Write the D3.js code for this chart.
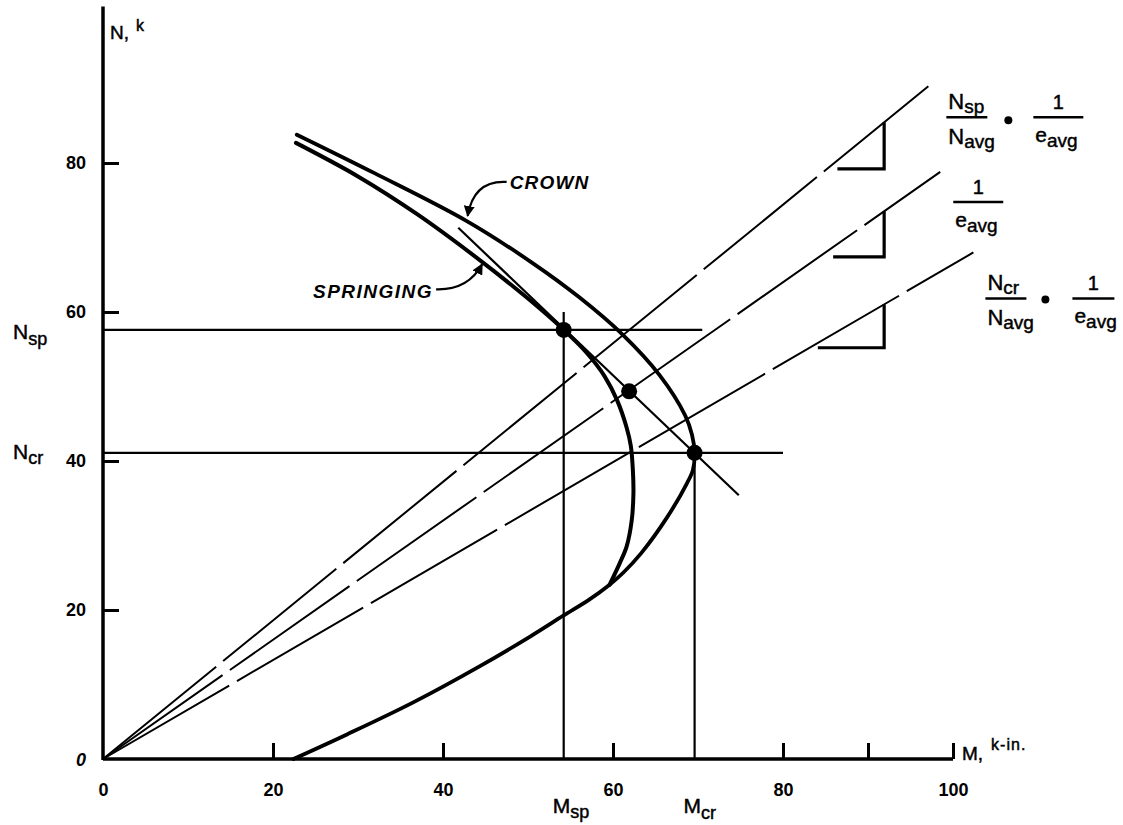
<!DOCTYPE html>
<html>
<head>
<meta charset="utf-8">
<script src="https://cdn.jsdelivr.net/npm/d3@7"></script>
<style>
  body { margin: 0; background: #fff; }
  svg { display: block; }
  text { font-family: "Liberation Sans", Arial, Helvetica, sans-serif; fill: #000; }
  .heavy { stroke: #000; stroke-width: 0.45px; }
</style>
</head>
<body>
<svg id="chart" width="1123" height="825"></svg>
<script>
// ---- axis ticks ----
const xTicks = [0, 20, 40, 60, 80, 90, 100];
const xTickLabels = ["0", "20", "40", "60", "80", "", "100"];
const yTicks = [20, 40, 60, 80];
const yTickLabels = ["20", "40", "60", "80"];

// ---- governing points (M in k-in., N in k) ----
const Msp = 54.2, Nsp = 57.6;    // springing
const Mcr = 69.6, Ncr = 41.1;    // crown
const Mavg = 61.9, Navg = 49.35; // average of the two

// ---- interaction curve at the crown, continuing into the shared lower branch ----
const crownM = [22.8, 32.0, 42.8, 50.5, 56.0, 61.1, 65.5, 68.5, 69.3, 69.6, 69.4, 68.7, 66.4, 63.3, 61.2, 59.6,
                57.2, 54.1, 50.2, 44.4, 36.5, 28.7, 22.4];
const crownN = [83.8, 78.6, 72.2, 66.6, 62.0, 57.0, 51.5, 46.1, 43.5, 41.1, 38.8, 37.0, 32.5, 27.6, 25.0, 23.4,
                21.4, 19.2, 16.4, 12.5, 7.6, 3.3, 0.0];

// ---- interaction curve at the springing (meets the crown curve at the cusp) ----
const springM = [22.7, 30.0, 37.0, 44.4, 50.0, 54.2, 57.0, 59.0, 60.5, 61.6, 62.1, 62.35, 62.4, 62.2, 61.6, 60.8, 59.6];
const springN = [82.7, 78.2, 73.1, 66.9, 61.8, 57.6, 54.4, 51.4, 48.1, 44.5, 42.0, 38.5, 35.5, 32.0, 28.5, 26.3, 23.4];

// ---- eccentricity lines through the origin: slope N/M and end M ----
const raySlopes = [0.93, 0.80, 0.664];
const rayEndM = [97.1, 98.5, 102.4];

// slope markers on each ray: vertical leg at M, foot level N, left end of foot
const markM = [91.9, 91.9, 91.9];
const markFootN = [79.2, 67.4, 55.2];
const markLeftM = [86.4, 85.9, 84.1];

// straight line joining the governing points, extended both ways
const joinM = [41.8, 74.8];
const joinN = [71.3, 35.4];

// ---------------------------------------------------------------
const svg = d3.select("#chart");
const x = d3.scaleLinear().domain([0, 100]).range([103, 953]);
const y = d3.scaleLinear().domain([0, 80]).range([759, 163]);

const ink = "#000";
const toPts = (ms, ns) => ms.map((m, i) => [m, ns[i]]);
const line = d3.line().x(d => x(d[0])).y(d => y(d[1]));
const smooth = d3.line().x(d => x(d[0])).y(d => y(d[1])).curve(d3.curveCatmullRom.alpha(0.5));

// ---- axes ----
const xAxis = d3.axisBottom(x)
  .tickValues(xTicks)
  .tickFormat((d, i) => xTickLabels[i])
  .tickSizeInner(-16).tickSizeOuter(0).tickPadding(24);
const gx = svg.append("g").attr("transform", `translate(0,${y(0)})`).call(xAxis);
gx.select(".domain").remove();
gx.selectAll(".tick line").attr("stroke", ink).attr("stroke-width", 3)
  .filter(d => d === 0).remove();
gx.selectAll(".tick text").attr("font-size", 18).attr("font-weight", "bold").attr("fill", ink);

const yAxis = d3.axisLeft(y)
  .tickValues(yTicks)
  .tickFormat((d, i) => yTickLabels[i])
  .tickSizeInner(-16).tickSizeOuter(0).tickPadding(17);
const gy = svg.append("g").attr("transform", `translate(${x(0)},0)`).call(yAxis);
gy.select(".domain").remove();
gy.selectAll(".tick line").attr("stroke", ink).attr("stroke-width", 3);
gy.selectAll(".tick text").attr("font-size", 18).attr("font-weight", "bold").attr("fill", ink);

// axis lines
svg.append("line").attr("x1", x(0)).attr("x2", x(100)).attr("y1", y(0)).attr("y2", y(0))
  .attr("stroke", ink).attr("stroke-width", 3.5);
svg.append("line").attr("x1", x(0)).attr("x2", x(0)).attr("y1", y(0) + 1).attr("y2", y(101))
  .attr("stroke", ink).attr("stroke-width", 3.5);

// origin label on the N axis
svg.append("text").attr("x", x(0) - 22).attr("y", y(0) + 7)
  .attr("text-anchor", "middle").attr("font-size", 18).attr("font-weight", "bold")
  .attr("font-style", "italic").text("0");

// axis titles
const nTitle = svg.append("text").attr("class", "heavy").attr("x", x(0) + 7).attr("y", y(101) + 32).attr("font-size", 19);
nTitle.append("tspan").text("N,");
nTitle.append("tspan").attr("dx", 7).attr("dy", -8).attr("font-size", 16).text("k");

const mTitle = svg.append("text").attr("class", "heavy").attr("x", x(100) + 9).attr("y", y(0) + 1).attr("font-size", 19);
mTitle.append("tspan").text("M,");
mTitle.append("tspan").attr("dx", 8).attr("dy", -10).attr("font-size", 16).attr("letter-spacing", 1).text("k-in.");

// ---- reference lines for the governing points ----
const ref = svg.append("g").attr("stroke", ink).attr("stroke-width", 2.2).attr("fill", "none");
ref.append("path").attr("d", line([[0, Nsp], [70.5, Nsp]]));
ref.append("path").attr("d", line([[0, Ncr], [80, Ncr]]));
ref.append("path").attr("d", line([[Msp, 0], [Msp, 60]]));
ref.append("path").attr("d", line([[Mcr, 0], [Mcr, Ncr]]));
ref.append("path").attr("d", line(toPts(joinM, joinN)));

// ---- eccentricity rays ----
const rays = svg.append("g").attr("stroke", ink).attr("stroke-width", 2).attr("fill", "none");
raySlopes.forEach((s, i) => {
  rays.append("path")
    .attr("d", line([[0, 0], [rayEndM[i], s * rayEndM[i]]]))
    .attr("stroke-dasharray", "146,9");
});

// slope markers
const marks = svg.append("g").attr("stroke", ink).attr("stroke-width", 3.2).attr("fill", "none")
  .attr("stroke-linejoin", "miter");
raySlopes.forEach((s, i) => {
  marks.append("path").attr("d", line([
    [markM[i], s * markM[i]],
    [markM[i], markFootN[i]],
    [markLeftM[i], markFootN[i]]
  ]));
});

// ---- interaction curves ----
const curves = svg.append("g").attr("stroke", ink).attr("fill", "none")
  .attr("stroke-linecap", "round").attr("stroke-linejoin", "round");
curves.append("path").attr("d", smooth(toPts(crownM, crownN))).attr("stroke-width", 3.8);
curves.append("path").attr("d", smooth(toPts(springM, springN))).attr("stroke-width", 4);

// ---- governing points ----
svg.append("g").selectAll("circle")
  .data([[Msp, Nsp], [Mavg, Navg], [Mcr, Ncr]])
  .join("circle")
  .attr("cx", d => x(d[0])).attr("cy", d => y(d[1])).attr("r", 8).attr("fill", ink);

// ---- curve labels with arrows ----
svg.append("defs").append("marker")
  .attr("id", "head").attr("viewBox", "0 0 10 10").attr("refX", 9).attr("refY", 5)
  .attr("markerWidth", 5).attr("markerHeight", 5).attr("orient", "auto-start-reverse")
  .append("path").attr("d", "M0,0 L10,5 L0,10 z").attr("fill", ink);

const crownTip = [x(42.9), y(72.9)];
svg.append("path")
  .attr("d", `M${crownTip[0] + 39},${crownTip[1] - 34} Q${crownTip[0] + 6},${crownTip[1] - 36} ${crownTip[0]},${crownTip[1]}`)
  .attr("stroke", ink).attr("stroke-width", 2.2).attr("fill", "none").attr("marker-end", "url(#head)");
svg.append("text").attr("x", crownTip[0] + 42).attr("y", crownTip[1] - 27)
  .attr("font-size", 19).attr("font-weight", "bold").attr("font-style", "italic")
  .attr("letter-spacing", 1.2).text("CROWN");

const springTip = [x(44.6), y(66.4)];
svg.append("path")
  .attr("d", `M${springTip[0] - 46},${springTip[1] + 25} Q${springTip[0] - 14},${springTip[1] + 26} ${springTip[0]},${springTip[1]}`)
  .attr("stroke", ink).attr("stroke-width", 2.2).attr("fill", "none").attr("marker-end", "url(#head)");
svg.append("text").attr("x", springTip[0] - 49).attr("y", springTip[1] + 34)
  .attr("text-anchor", "end").attr("font-size", 19).attr("font-weight", "bold")
  .attr("font-style", "italic").attr("letter-spacing", 1.5).text("SPRINGING");

// ---- subscripted symbols ----
function symbol(px, py, main, sub, size, subSize, subDy, anchor) {
  const t = svg.append("text").attr("class", "heavy").attr("x", px).attr("y", py).attr("font-size", size)
    .attr("text-anchor", anchor || "start");
  t.append("tspan").text(main);
  t.append("tspan").attr("dy", subDy).attr("font-size", subSize).text(sub);
  return t;
}

// governing values next to the axes
symbol(13, y(Nsp) + 9, "N", "sp", 21, 18, 6);
symbol(13, y(Ncr) + 6, "N", "cr", 21, 18, 5);
symbol(x(Msp) - 11, y(0) + 54, "M", "sp", 21, 18, 5);
symbol(x(Mcr) - 11, y(0) + 54, "M", "cr", 21, 18, 6);

// ---- ray labels (fractions) ----
function bar(x1, x2, yy) {
  svg.append("line").attr("x1", x1).attr("x2", x2).attr("y1", yy).attr("y2", yy)
    .attr("stroke", ink).attr("stroke-width", 2.4);
}
function oneOverE(cx, barY, w) {
  bar(cx - w / 2, cx + w / 2, barY);
  svg.append("text").attr("class", "heavy").attr("x", cx).attr("y", barY - 8).attr("text-anchor", "middle")
    .attr("font-size", 20).text("1");
  symbol(cx - w / 2 + 2, barY + 25, "e", "avg", 21, 19, 5);
}
function nOverN(left, barY, sub) {
  symbol(left + 2, barY - 8, "N", sub, 22, 19, 4);
  bar(left, left + 41, barY);
  symbol(left + 2, barY + 27, "N", "avg", 22, 19, 4);
}

// top ray: N_sp / N_avg * 1 / e_avg
const topBarY = y(raySlopes[0] * rayEndM[0]) + 31;
nOverN(x(rayEndM[0]) + 18, topBarY, "sp");
svg.append("circle").attr("cx", x(rayEndM[0]) + 80).attr("cy", topBarY + 3).attr("r", 4).attr("fill", ink);
oneOverE(x(rayEndM[0]) + 130, topBarY, 50);

// middle ray: 1 / e_avg
const midBarY = y(raySlopes[1] * rayEndM[1]) + 30;
oneOverE(x(rayEndM[1]) + 38, midBarY, 50);

// bottom ray: N_cr / N_avg * 1 / e_avg
const botBarY = y(raySlopes[2] * rayEndM[2]) + 46;
nOverN(x(rayEndM[2]) + 12, botBarY, "cr");
svg.append("circle").attr("cx", x(rayEndM[2]) + 72).attr("cy", botBarY + 1).attr("r", 4).attr("fill", ink);
oneOverE(x(rayEndM[2]) + 120, botBarY, 42);
</script>
</body>
</html>
